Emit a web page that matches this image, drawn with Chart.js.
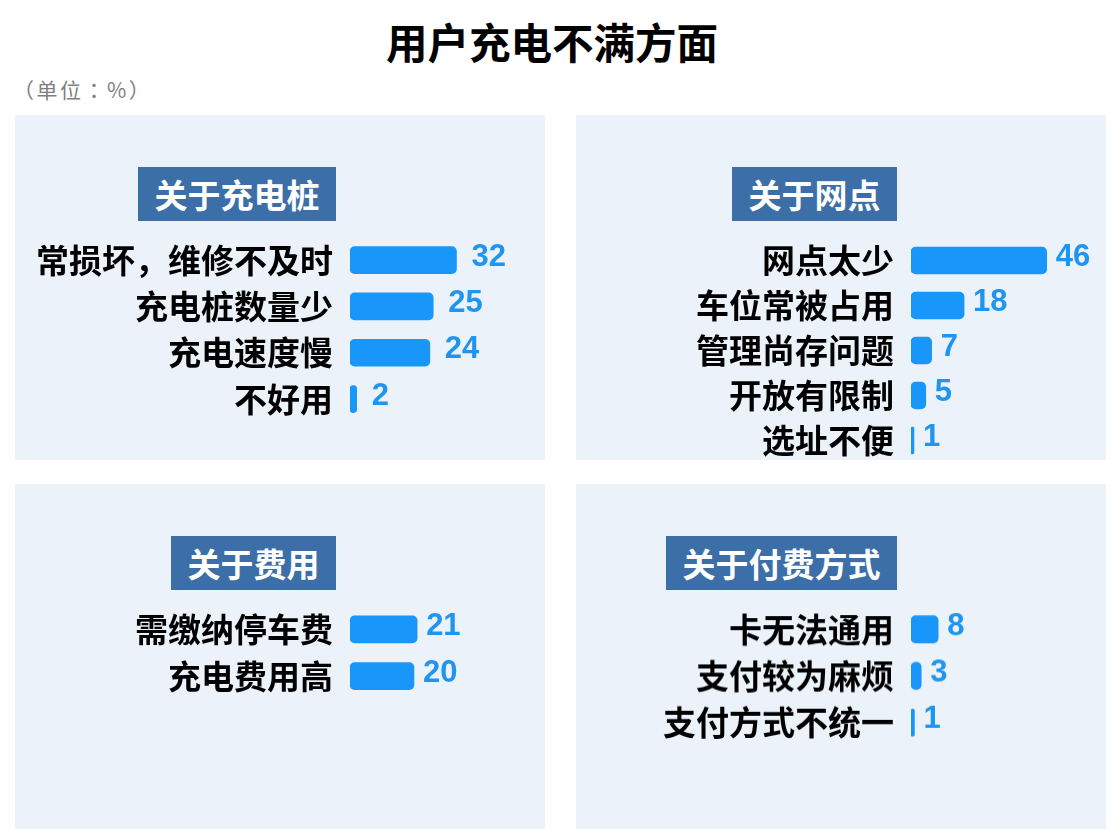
<!DOCTYPE html>
<html>
<head>
<meta charset="utf-8">
<script src="https://cdn.jsdelivr.net/npm/chart.js@4/dist/chart.umd.min.js"></script>
<style>
  html, body { margin:0; padding:0; background:#ffffff; }
  body { width:1113px; height:829px; position:relative; overflow:hidden;
         font-family:"Noto Sans CJK SC","Noto Sans",sans-serif; }
  #title { position:absolute; left:0; width:1104px; top:19px; height:44px; line-height:44px;
           text-align:center; font-size:41.5px; font-weight:700; color:#000; }
  #unit { position:absolute; left:13px; top:76px; height:26px; line-height:26px;
          font-family:"Noto Sans CJK TC","Noto Sans CJK SC",sans-serif;
          font-size:21px; color:#7f7f7f; letter-spacing:2.5px; }
  .panel { position:absolute; width:530px; height:345px; background:#EBF2FA; }
  .head { position:absolute; right:209px; top:52px; height:54px; line-height:54px;
          padding:0 16.5px; background:#3C6EA8; color:#fff; font-size:33px; font-weight:700;
          white-space:nowrap; }
  .box { position:absolute; left:0; width:530px; }
</style>
</head>
<body>
<div id="title"></div>
<div id="unit"></div>
<div id="p0" class="panel" style="left:15px;top:115px;"></div>
<div id="p1" class="panel" style="left:576px;top:115px;"></div>
<div id="p2" class="panel" style="left:15px;top:484px;"></div>
<div id="p3" class="panel" style="left:576px;top:484px;"></div>
<script>
// ---- data ----
const chartTitle = '用户充电不满方面';
const unitText = '（单位：%）';
const groupTitles = ['关于充电桩', '关于网点', '关于费用', '关于付费方式'];

const pileLabels = ['常损坏，维修不及时', '充电桩数量少', '充电速度慢', '不好用'];
const pileValues = [32, 25, 24, 2];

const siteLabels = ['网点太少', '车位常被占用', '管理尚存问题', '开放有限制', '选址不便'];
const siteValues = [46, 18, 7, 5, 1];

const feeLabels = ['需缴纳停车费', '充电费用高'];
const feeValues = [21, 20];

const payLabels = ['卡无法通用', '支付较为麻烦', '支付方式不统一'];
const payValues = [8, 3, 1];

// ---- layout / style (not data) ----
const axisMax = [58.6, 66.1, 61, 57.4];
const boxTop = [122, 122.5, 122, 122];
const rowHeight = [46.3, 45, 46.7, 46.3];
const valueGap = [15, 9, 9, 9];

const BAR_COLOR = '#1896FA';
const VALUE_COLOR = '#1F95EF';
const LABEL_FONT = '"Noto Sans CJK SC","Noto Sans",sans-serif';
const VALUE_FONT = '"Liberation Sans", Arial, sans-serif';

document.getElementById('title').textContent = chartTitle;
document.getElementById('unit').textContent = unitText;

const groups = [
  { labels: pileLabels, values: pileValues },
  { labels: siteLabels, values: siteValues },
  { labels: feeLabels, values: feeValues },
  { labels: payLabels, values: payValues }
];

const valueLabelPlugin = {
  id: 'valueLabels',
  afterDatasetsDraw(chart, args, opts) {
    const ctx = chart.ctx;
    const meta = chart.getDatasetMeta(0);
    const vals = chart.data.datasets[0].data;
    ctx.save();
    ctx.font = 'bold 31px ' + VALUE_FONT;
    ctx.fillStyle = VALUE_COLOR;
    ctx.textAlign = 'left';
    ctx.textBaseline = 'middle';
    meta.data.forEach((bar, i) => {
      ctx.fillText(String(vals[i]), bar.x + opts.gap, bar.y - 3);
    });
    ctx.restore();
  }
};

groups.forEach((g, i) => {
  const panel = document.getElementById('p' + i);
  const head = document.createElement('div');
  head.className = 'head';
  head.textContent = groupTitles[i];
  panel.appendChild(head);

  const box = document.createElement('div');
  box.className = 'box';
  box.style.top = boxTop[i] + 'px';
  box.style.height = (rowHeight[i] * g.labels.length) + 'px';
  const cv = document.createElement('canvas');
  box.appendChild(cv);
  panel.appendChild(box);

  new Chart(cv, {
    type: 'bar',
    data: {
      labels: g.labels,
      datasets: [{
        data: g.values,
        backgroundColor: BAR_COLOR,
        borderRadius: 5,
        borderSkipped: false,
        barThickness: 27
      }]
    },
    options: {
      indexAxis: 'y',
      responsive: true,
      maintainAspectRatio: false,
      animation: false,
      layout: { padding: 0 },
      plugins: {
        legend: { display: false },
        tooltip: { enabled: false },
        valueLabels: { gap: valueGap[i] }
      },
      scales: {
        x: { display: false, min: 0, max: axisMax[i] },
        y: {
          grid: { display: false, drawTicks: false },
          border: { display: false },
          ticks: {
            color: '#000000',
            autoSkip: false,
            padding: 17,
            font: { family: LABEL_FONT, size: 33, weight: 'bold' }
          },
          afterFit(s) {
            s.width = 335;
            s.paddingTop = 0;
            s.paddingBottom = 0;
          }
        }
      }
    },
    plugins: [valueLabelPlugin]
  });
});
</script>
</body>
</html>
